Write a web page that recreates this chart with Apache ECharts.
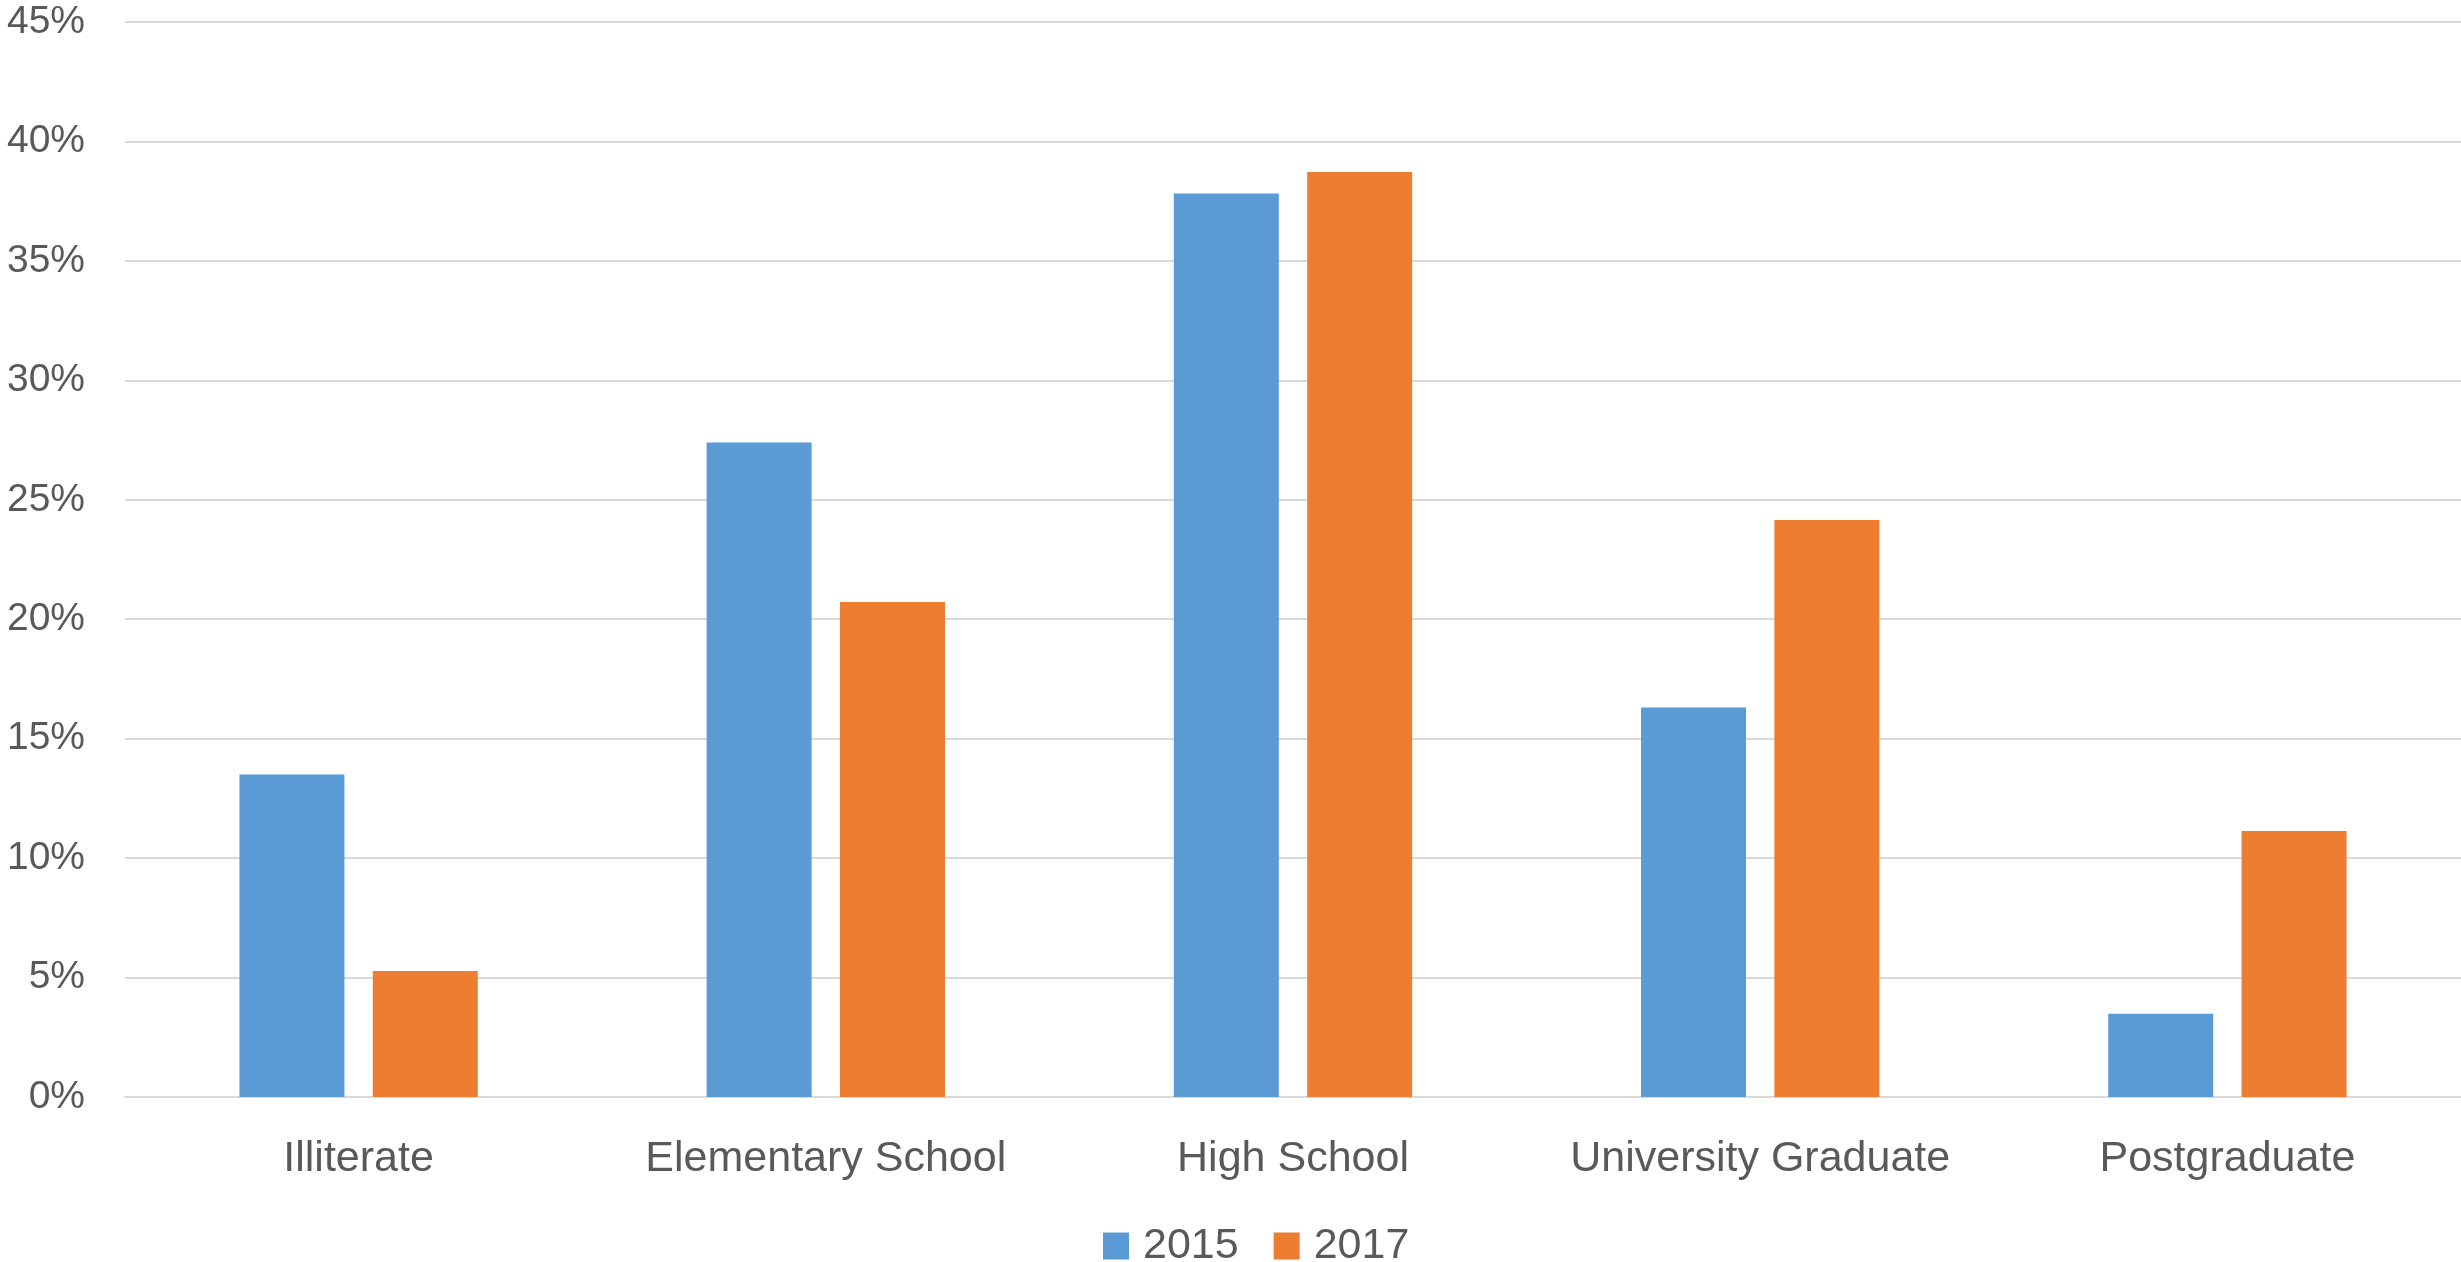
<!DOCTYPE html>
<html>
<head>
<meta charset="utf-8">
<script src="https://cdn.jsdelivr.net/npm/echarts@6/dist/echarts.min.js"></script>
<style>
html,body{margin:0;padding:0;background:#fff;}
#chart{width:2461px;height:1262px;}
</style>
</head>
<body>
<div id="chart"></div>
<script>
const categories = ['Illiterate', 'Elementary School', 'High School', 'University Graduate', 'Postgraduate'];
const seriesNames = ['2015', '2017'];
const values2015 = [13.50, 27.40, 37.82, 16.30, 3.48];
const values2017 = [5.27, 20.72, 38.72, 24.15, 11.13];
const yTicks = { min: 0, max: 45, interval: 5 };

const FONT = '"Liberation Sans", Arial, sans-serif';
const TEXT = '#595959';
const GRID = '#d9d9d9';

const chart = echarts.init(document.getElementById('chart'), null, { renderer: 'canvas' });
chart.setOption({
  backgroundColor: '#ffffff',
  animation: false,
  textStyle: { fontFamily: FONT },
  grid: { left: 125, right: 0, top: 22, bottom: 165, containLabel: false },
  legend: {
    data: seriesNames,
    left: 1098,
    top: 1218,
    icon: 'rect',
    itemWidth: 26,
    itemHeight: 27,
    itemGap: 35,
    textStyle: { fontSize: 43, color: TEXT, fontFamily: FONT, lineHeight: 46, padding: [0, 0, 0, 9] }
  },
  xAxis: {
    type: 'category',
    data: categories,
    axisLine: { show: true, lineStyle: { color: GRID, width: 2 } },
    axisTick: { show: false },
    axisLabel: { fontSize: 43, color: TEXT, fontFamily: FONT, margin: 41, lineHeight: 43, interval: 0 }
  },
  yAxis: {
    type: 'value',
    min: yTicks.min,
    max: yTicks.max,
    interval: yTicks.interval,
    axisLine: { show: false },
    axisTick: { show: false },
    axisLabel: { fontSize: 39, color: TEXT, fontFamily: FONT, margin: 40, formatter: '{value}%' },
    splitLine: { lineStyle: { color: GRID, width: 2 } }
  },
  series: [
    { name: seriesNames[0], type: 'bar', data: values2015, barWidth: 105, barGap: '27%', itemStyle: { color: '#5B9BD5' } },
    { name: seriesNames[1], type: 'bar', data: values2017, barWidth: 105, barGap: '27%', itemStyle: { color: '#ED7D31' } }
  ]
});
</script>
</body>
</html>
